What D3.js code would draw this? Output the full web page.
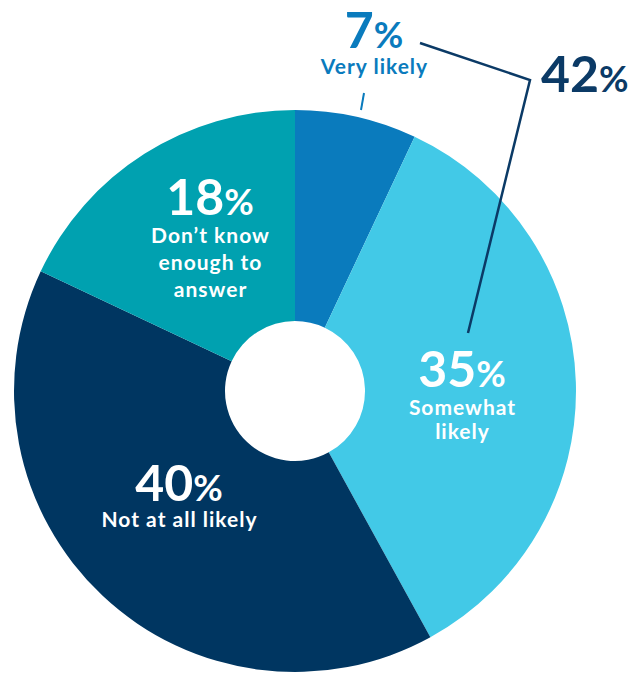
<!DOCTYPE html>
<html>
<head>
<meta charset="utf-8">
<script src="https://cdn.jsdelivr.net/npm/d3@7"></script>
<style>
  html, body { margin: 0; padding: 0; background: #fff; }
  svg { display: block; font-family: Lato, "Open Sans", sans-serif; font-weight: 700; }
</style>
</head>
<body>
<svg id="chart" width="629" height="675"></svg>
<script>
// Survey answers, clockwise from 12 o'clock
const categories = ["Very likely", "Somewhat likely", "Not at all likely", "Don\u2019t know enough to answer"];
const values = [7, 35, 40, 18];
const labelLines = [["Very likely"], ["Somewhat", "likely"], ["Not at all likely"], ["Don\u2019t know", "enough to", "answer"]];
const combinedLabel = 42; // Very likely + Somewhat likely

const colors = ["#0a7bbd", "#42c9e7", "#003661", "#00a1b0"];
const navy = "#0b3a66";

// Label anchors: x centre and baseline of the percentage
const labelLayout = [
  { x: 374, y: 48, fill: "#0a7bbd", lineGap: 26, firstGap: 26 },
  { x: 462, y: 387, fill: "#fff", lineGap: 24, firstGap: 28 },
  { x: 179, y: 501, fill: "#fff", lineGap: 26, firstGap: 26 },
  { x: 210, y: 215, fill: "#fff", lineGap: 27, firstGap: 28 }
];

const svg = d3.select("#chart");
const cx = 295, cy = 391, R = 281, r = 70;

const pie = d3.pie().sort(null).value(d => d.value);
const arcs = pie(categories.map((c, i) => ({ category: c, value: values[i], i })));
const arc = d3.arc().innerRadius(r).outerRadius(R);

const g = svg.append("g").attr("transform", `translate(${cx},${cy})`);
g.selectAll("path.slice")
  .data(arcs)
  .join("path")
  .attr("class", "slice")
  .attr("d", arc)
  .attr("fill", d => colors[d.data.i]);

// Percentage with a smaller "%" sign
function pctText(sel, v, size) {
  sel.append("tspan").text(v).attr("font-size", size);
  sel.append("tspan").text("%").attr("font-size", size * 0.72);
}

// One text block per slice: percentage followed by the description lines
arcs.forEach(d => {
  const i = d.data.i, L = labelLayout[i];
  const t = svg.append("text")
    .attr("x", L.x).attr("y", L.y)
    .attr("text-anchor", "middle")
    .attr("fill", L.fill);
  pctText(t, values[i], 50);
  labelLines[i].forEach((line, k) => {
    t.append("tspan")
      .attr("x", L.x + 0.5)
      .attr("y", L.y + L.firstGap + k * L.lineGap)
      .attr("font-size", 21)
      .attr("letter-spacing", 1)
      .text(line);
  });
});

// Pointer from the small slice to its label
svg.append("line")
  .attr("x1", 364).attr("y1", 93).attr("x2", 361).attr("y2", 110)
  .attr("stroke", colors[0]).attr("stroke-width", 2);

// Bracket joining the two "likely" answers
svg.append("polyline")
  .attr("points", "420,43 530,80 468,333")
  .attr("fill", "none")
  .attr("stroke", navy)
  .attr("stroke-width", 2.5)
  .attr("stroke-linejoin", "miter");

const tot = svg.append("text")
  .attr("x", 541).attr("y", 92)
  .attr("fill", navy);
pctText(tot, combinedLabel, 50);
</script>
</body>
</html>
